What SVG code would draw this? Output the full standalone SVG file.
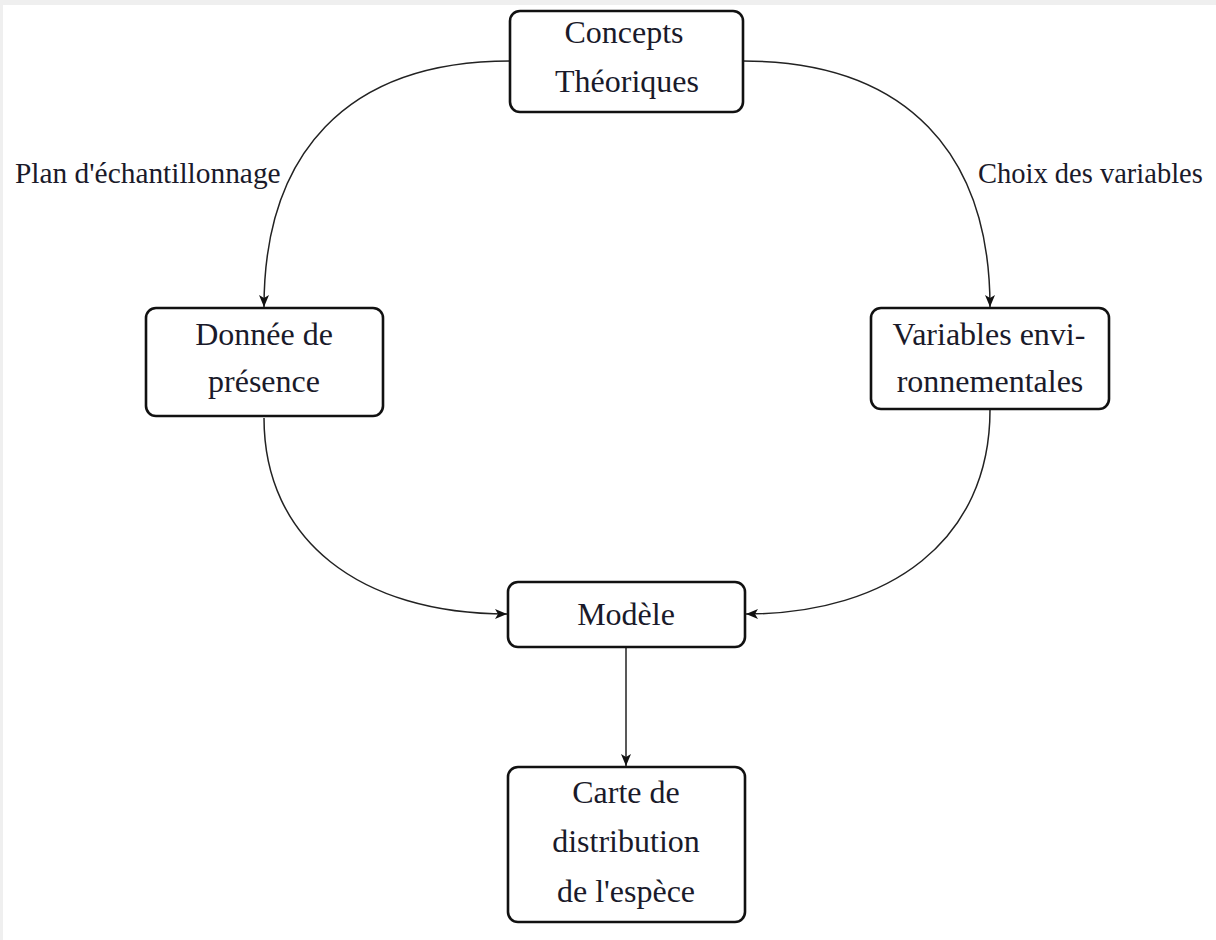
<svg xmlns="http://www.w3.org/2000/svg" width="1216" height="940" viewBox="0 0 1216 940">
<defs>
<style>
.box{fill:#fff;stroke:#111;stroke-width:2.6}
.t{font-family:"Liberation Serif","DejaVu Serif",serif;font-size:32px;fill:#1a1a2a;text-anchor:middle}
.lbl{font-family:"Liberation Serif","DejaVu Serif",serif;font-size:28.5px;fill:#1a1a2a}
.c{fill:none;stroke:#222;stroke-width:1.5}
</style>
<marker id="arr" viewBox="0 0 12 10" refX="12" refY="5" markerWidth="12" markerHeight="10" markerUnits="userSpaceOnUse" orient="auto">
<path d="M0,0 L12,5 L0,10 L3,5 Z" fill="#111"/>
</marker>
</defs>
<rect x="0" y="0" width="1216" height="940" fill="#fff"/>
<rect x="0" y="0" width="1216" height="5" fill="#efefef"/>
<rect x="0" y="0" width="3" height="940" fill="#efefef"/>
<g id="connectors">
<path class="c" d="M510,61 C345,61 264,155 264,307" marker-end="url(#arr)"/>
<path class="c" d="M743,61 C908,61 990,155 990,307" marker-end="url(#arr)"/>
<path class="c" d="M264,418 C264,540 360,614 507,614" marker-end="url(#arr)"/>
<path class="c" d="M990,410 C990,540 890,614 746,614" marker-end="url(#arr)"/>
<path class="c" d="M626,648 L626,766" marker-end="url(#arr)"/>
<text class="lbl" x="15" y="183" style="font-size:29.4px">Plan d'échantillonnage</text>
<text class="lbl" x="978" y="183">Choix des variables</text>
</g>
<g id="concepts">
<rect class="box" x="510" y="11" width="233" height="101" rx="10"/>
<text class="t" x="624" y="43">Concepts</text>
<text class="t" x="627" y="92">Théoriques</text>
</g>
<g id="donnee">
<rect class="box" x="146" y="308" width="237" height="108" rx="10"/>
<text class="t" x="264" y="345">Donnée de</text>
<text class="t" x="264" y="392">présence</text>
</g>
<g id="variables">
<rect class="box" x="871" y="308" width="238" height="101" rx="10"/>
<text class="t" x="989" y="345">Variables envi-</text>
<text class="t" x="990" y="392">ronnementales</text>
</g>
<g id="modele">
<rect class="box" x="508" y="582" width="237" height="65" rx="10"/>
<text class="t" x="626" y="625">Modèle</text>
</g>
<g id="carte">
<rect class="box" x="508" y="767" width="237" height="155" rx="10"/>
<text class="t" x="626" y="803">Carte de</text>
<text class="t" x="626" y="852">distribution</text>
<text class="t" x="626" y="902">de l'espèce</text>
</g>
</svg>
